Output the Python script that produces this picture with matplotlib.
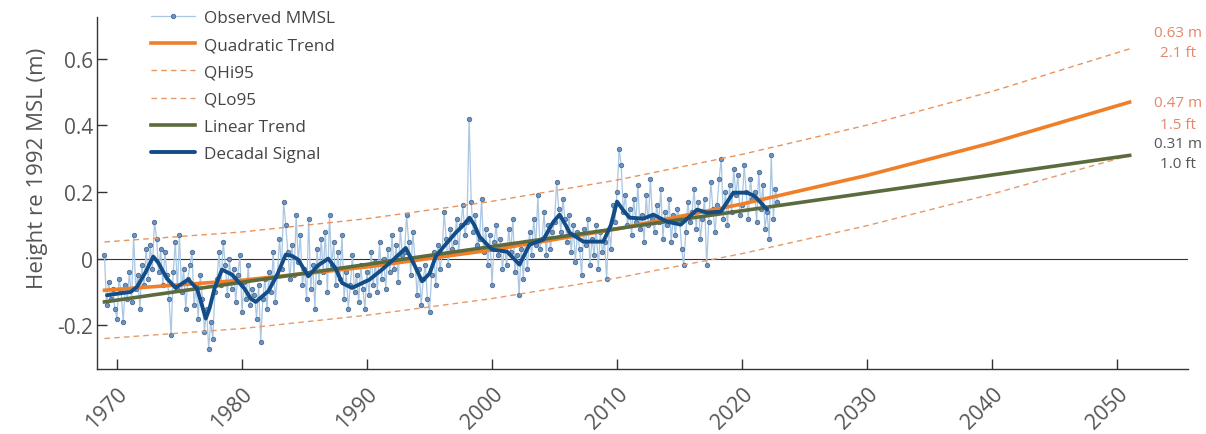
import numpy as np
import matplotlib
matplotlib.use("Agg")
import matplotlib.pyplot as plt

plt.rcParams['font.family'] = ['Open Sans', 'DejaVu Sans']

# observed monthly mean sea level, six readings per year 1969-2022 (m)
obs_start = 1969
obs_per_year = 6
obs_mmsl = [
    0.01, -0.14, -0.07, -0.12, -0.09, -0.15,
    -0.18, -0.06, -0.10, -0.19, -0.08, -0.12,
    -0.04, -0.13, 0.07, -0.09, -0.05, -0.15,
    -0.02, -0.08, 0.03, -0.06, 0.04, -0.03,
    0.11, 0.06, -0.04, 0.03, -0.08, 0.02,
    -0.05, -0.12, -0.23, -0.04, 0.05, -0.09,
    0.07, -0.10, -0.03, -0.15, -0.06, -0.02,
    0.02, -0.14, -0.08, -0.18, -0.05, -0.12,
    -0.22, -0.15, -0.27, -0.19, -0.24, -0.10,
    -0.06, 0.02, -0.08, 0.05, -0.02, -0.11,
    0.00, -0.09, -0.03, -0.13, -0.05, 0.01,
    -0.16, -0.07, -0.12, -0.02, -0.14, -0.09,
    -0.11, -0.18, -0.08, -0.25, -0.12, -0.06,
    -0.15, -0.04, -0.10, 0.02, -0.13, -0.05,
    0.06, -0.03, 0.17, 0.10, 0.02, -0.06,
    0.04, -0.05, 0.13, -0.01, 0.07, -0.08,
    -0.03, -0.12, 0.12, -0.09, -0.02, -0.15,
    0.03, -0.07, 0.06, -0.04, 0.08, -0.10,
    0.13, -0.02, 0.05, -0.08, 0.02, -0.06,
    0.07, -0.12, -0.04, -0.15, -0.08, 0.01,
    -0.10, -0.05, -0.13, -0.02, -0.09, -0.15,
    -0.04, -0.11, 0.02, -0.08, -0.01, -0.10,
    0.05, -0.06, 0.00, -0.09, 0.03, -0.04,
    0.07, -0.03, 0.04, -0.07, 0.09, 0.01,
    0.02, 0.13, 0.05, -0.05, 0.08, 0.00,
    -0.11, -0.03, -0.14, -0.06, -0.02, -0.12,
    -0.16, -0.05, 0.02, -0.08, 0.04, -0.03,
    0.01, 0.14, 0.06, -0.02, 0.09, 0.03,
    0.05, 0.12, 0.02, 0.10, 0.16, 0.07,
    0.11, 0.42, 0.17, 0.08, 0.13, 0.04,
    0.06, 0.18, 0.02, 0.09, -0.02, 0.07,
    -0.08, 0.05, 0.10, 0.01, 0.06, -0.03,
    0.04, -0.02, 0.09, 0.02, 0.12, -0.04,
    0.01, -0.11, 0.03, -0.06, 0.05, -0.03,
    0.08, 0.01, 0.12, 0.04, 0.19, 0.03,
    0.06, 0.14, 0.01, 0.10, 0.03, 0.08,
    0.11, 0.23, 0.15, 0.08, 0.18, 0.12,
    0.05, 0.13, 0.02, 0.10, -0.01, 0.08,
    0.03, -0.05, 0.09, 0.04, 0.12, -0.02,
    0.06, 0.01, 0.10, -0.03, 0.08, 0.02,
    0.05, -0.06, 0.09, 0.03, 0.16, 0.11,
    0.20, 0.33, 0.28, 0.14, 0.19, 0.10,
    0.15, 0.07, 0.18, 0.11, 0.22, 0.09,
    0.13, 0.05, 0.19, 0.10, 0.24, 0.12,
    0.08, 0.16, 0.11, 0.21, 0.06, 0.14,
    0.10, 0.18, 0.05, 0.13, 0.07, 0.15,
    0.12, 0.03, -0.02, 0.08, 0.17, 0.11,
    0.14, 0.21, 0.09, 0.17, 0.06, 0.12,
    0.18, -0.02, 0.11, 0.23, 0.15, 0.08,
    0.16, 0.24, 0.30, 0.12, 0.20, 0.10,
    0.22, 0.14, 0.27, 0.19, 0.25, 0.13,
    0.16, 0.28, 0.20, 0.12, 0.24, 0.18,
    0.20, 0.11, 0.26, 0.15, 0.22, 0.09,
    0.14, 0.06, 0.31, 0.12, 0.21, 0.17,
]

# decadal signal
dec_years = [1969.2, 1970.1, 1971.1, 1971.6, 1972.3, 1972.9, 1973.3, 1974.0, 1974.7,
             1975.2, 1975.7, 1976.4, 1976.8, 1977.1, 1977.4, 1977.8, 1978.4, 1979.2,
             1980.2, 1980.7, 1981.1, 1982.1, 1982.8, 1983.5, 1984.0, 1984.5, 1985.3,
             1986.1, 1986.9, 1987.5, 1988.0, 1988.8, 1990.2, 1991.2, 1992.2, 1993.1,
             1993.8, 1994.4, 1995.0, 1995.5, 1996.0, 1997.1, 1997.7, 1998.2, 1998.6,
             1999.0, 2000.0, 2001.2, 2002.2, 2003.0, 2004.1, 2004.9, 2005.4, 2005.9,
             2006.2, 2007.3, 2008.9, 2009.5, 2010.0, 2010.5, 2011.0, 2012.1, 2012.9,
             2014.0, 2015.1, 2016.4, 2017.2, 2018.3, 2019.3, 2020.4, 2021.0, 2021.5,
             2022.0]
dec_vals = [-0.11, -0.105, -0.10, -0.085, -0.04, 0.006, -0.012, -0.06, -0.088,
            -0.075, -0.063, -0.09, -0.14, -0.18, -0.15, -0.09, -0.033, -0.048,
            -0.09, -0.12, -0.13, -0.098, -0.05, 0.012, 0.008, -0.003, -0.053,
            -0.02, 0.0, -0.03, -0.073, -0.088, -0.063, -0.033, 0.0, 0.032,
            -0.02, -0.068, -0.045, 0.006, 0.03, 0.078, 0.10, 0.123, 0.10,
            0.066, 0.027, 0.021, -0.018, 0.042, 0.057, 0.11, 0.132, 0.10,
            0.078, 0.051, 0.051, 0.10, 0.171, 0.145, 0.123, 0.12, 0.132,
            0.111, 0.102, 0.147, 0.138, 0.141, 0.198, 0.198, 0.188, 0.168,
            0.147]

# trends and 95% band
trend_years = [1969, 1980, 1990, 2000, 2010, 2020, 2030, 2040, 2051]
quad_trend = [-0.095, -0.065, -0.025, 0.026, 0.089, 0.164, 0.25, 0.348, 0.47]
qhi95 = [0.05, 0.08, 0.12, 0.172, 0.236, 0.313, 0.401, 0.502, 0.63]
qlo95 = [-0.24, -0.21, -0.17, -0.12, -0.058, 0.015, 0.099, 0.194, 0.31]
lin_years = [1969, 2051]
lin_trend = [-0.13, 0.31]

end_labels = [("0.63 m", "2.1 ft"), ("0.47 m", "1.5 ft"), ("0.31 m", "1.0 ft")]
end_colors = ['#e4876a', '#e4876a', '#555555']

obs_years = obs_start + np.arange(len(obs_mmsl)) / obs_per_year

fig = plt.figure(figsize=(12.06, 4.35), dpi=100)
ax = fig.add_axes([0.0804, 0.149, 0.905, 0.81])

ax.axhline(0, color='#333333', lw=0.8, zorder=1)

ax.plot(obs_years, obs_mmsl, color='#a9c6e3', lw=0.9, marker='o', ms=3.2,
        mfc='#6b93c4', mec='#4d6a8c', mew=0.6, label='Observed MMSL', zorder=2)
ax.plot(trend_years, quad_trend, color='#f07f2a', lw=2.6, label='Quadratic Trend', zorder=3)
ax.plot(trend_years, qhi95, color='#e8945c', lw=1.0, ls=(0, (4, 3)), label='QHi95', zorder=3)
ax.plot(trend_years, qlo95, color='#e49a6a', lw=1.0, ls=(0, (4, 3)), label='QLo95', zorder=3)
ax.plot(lin_years, lin_trend, color='#5c6b3e', lw=2.6, label='Linear Trend', zorder=4)
ax.plot(dec_years, dec_vals, color='#124d87', lw=2.8, label='Decadal Signal', zorder=5,
        solid_joinstyle='round', solid_capstyle='round')

ax.set_xlim(1968.4, 2055.7)
ax.set_ylim(-0.332, 0.726)

ax.set_xticks([1970, 1980, 1990, 2000, 2010, 2020, 2030, 2040, 2050])
ax.set_yticks([-0.2, 0, 0.2, 0.4, 0.6])
ax.set_yticklabels(['-0.2', '0', '0.2', '0.4', '0.6'])
ax.tick_params(direction='in', length=7, width=1, color='#333333',
               labelcolor='#555555')
ax.tick_params(axis='y', labelsize=15, pad=3)
ax.tick_params(axis='x', labelsize=15.5, pad=10)
for lbl in ax.get_xticklabels():
    lbl.set_rotation(45)
    lbl.set_ha('right')
    lbl.set_rotation_mode('anchor')

ax.set_ylabel('Height re 1992 MSL (m)', fontsize=16, color='#555555')
ax.yaxis.set_label_coords(-0.045, 0.572)

for side in ['top', 'right']:
    ax.spines[side].set_visible(False)
for side in ['left', 'bottom']:
    ax.spines[side].set_color('#333333')
    ax.spines[side].set_linewidth(1)

label_y = [(0.68, 0.62), (0.469, 0.403), (0.346, 0.286)]
for (m_txt, ft_txt), (y1, y2), c in zip(end_labels, label_y, end_colors):
    ax.text(2054.9, y1, m_txt, color=c, fontsize=11, ha='center', va='center', clip_on=False)
    ax.text(2054.9, y2, ft_txt, color=c, fontsize=11, ha='center', va='center', clip_on=False)

leg = ax.legend(loc='upper left', bbox_to_anchor=(0.043, 1.039), frameon=False,
                fontsize=12.3, handlelength=2.6, handletextpad=0.5,
                labelspacing=0.66, borderaxespad=0)
for t in leg.get_texts():
    t.set_color('#444444')

plt.savefig('out.png', dpi=100)
